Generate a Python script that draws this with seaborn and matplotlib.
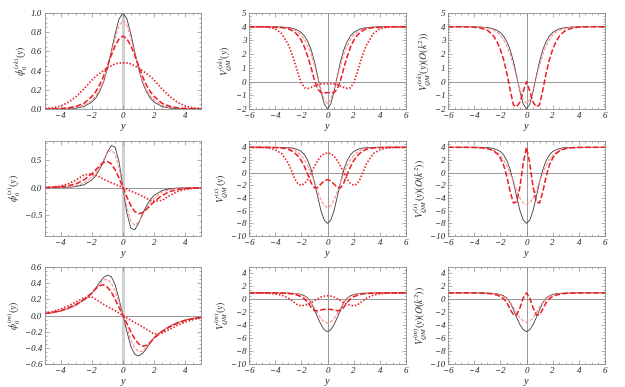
import matplotlib
matplotlib.use('Agg')
import matplotlib.pyplot as plt
import seaborn as sns
import pandas as pd
from matplotlib.ticker import MultipleLocator, AutoMinorLocator

# ---------------- data ----------------
XA = [-5, -4.5, -4, -3.5, -3, -2.5, -2, -1.75, -1.5, -1.25, -1, -0.75, -0.5, -0.25, 0,
      0.25, 0.5, 0.75, 1, 1.25, 1.5, 1.75, 2, 2.5, 3, 3.5, 4, 4.5, 5]
XB = [-6, -5, -4.5, -4, -3.5, -3, -2.75, -2.5, -2.25, -2, -1.75, -1.5, -1.25, -1, -0.75, -0.5, -0.25, 0,
      0.25, 0.5, 0.75, 1, 1.25, 1.5, 1.75, 2, 2.25, 2.5, 2.75, 3, 3.5, 4, 4.5, 5, 6]

# row 1, column 1 (zero mode)
r1c1_black = [0.0002, 0.0005, 0.0013, 0.0036, 0.0099, 0.026, 0.071, 0.114, 0.181, 0.278, 0.420, 0.600, 0.786, 0.940, 1.0,
              0.940, 0.786, 0.600, 0.420, 0.278, 0.181, 0.114, 0.071, 0.026, 0.0099, 0.0036, 0.0013, 0.0005, 0.0002]
r1c1_pink = [0.001, 0.002, 0.004, 0.008, 0.017, 0.038, 0.09, 0.135, 0.20, 0.29, 0.43, 0.58, 0.74, 0.87, 0.92,
             0.87, 0.74, 0.58, 0.43, 0.29, 0.20, 0.135, 0.09, 0.038, 0.017, 0.008, 0.004, 0.002, 0.001]
r1c1_dash = [0.001, 0.002, 0.005, 0.012, 0.028, 0.06, 0.13, 0.18, 0.25, 0.34, 0.45, 0.56, 0.66, 0.73, 0.76,
             0.73, 0.66, 0.56, 0.45, 0.34, 0.25, 0.18, 0.13, 0.06, 0.028, 0.012, 0.005, 0.002, 0.001]
r1c1_dot = [0.005, 0.012, 0.03, 0.07, 0.13, 0.21, 0.30, 0.34, 0.37, 0.40, 0.43, 0.45, 0.47, 0.48, 0.48,
            0.48, 0.47, 0.45, 0.43, 0.40, 0.37, 0.34, 0.30, 0.21, 0.13, 0.07, 0.03, 0.012, 0.005]

# row 2, column 1
r2c1_black = [0.0004, 0.001, 0.0027, 0.007, 0.0196, 0.052, 0.137, 0.215, 0.33, 0.47, 0.64, 0.76, 0.726, 0.46, 0,
              -0.46, -0.726, -0.76, -0.64, -0.47, -0.33, -0.215, -0.137, -0.052, -0.0196, -0.007, -0.0027, -0.001, -0.0004]
r2c1_pink = [0.001, 0.002, 0.006, 0.014, 0.035, 0.08, 0.19, 0.27, 0.38, 0.5, 0.62, 0.68, 0.6, 0.35, 0,
             -0.35, -0.6, -0.68, -0.62, -0.5, -0.38, -0.27, -0.19, -0.08, -0.035, -0.014, -0.006, -0.002, -0.001]
r2c1_dash = [0.003, 0.007, 0.016, 0.035, 0.07, 0.14, 0.25, 0.32, 0.39, 0.45, 0.47, 0.43, 0.32, 0.17, 0,
             -0.17, -0.32, -0.43, -0.47, -0.45, -0.39, -0.32, -0.25, -0.14, -0.07, -0.035, -0.016, -0.007, -0.003]
r2c1_dot = [0.005, 0.012, 0.03, 0.07, 0.14, 0.23, 0.245, 0.225, 0.19, 0.155, 0.12, 0.09, 0.06, 0.03, 0,
            -0.03, -0.06, -0.09, -0.12, -0.155, -0.19, -0.225, -0.245, -0.23, -0.14, -0.07, -0.03, -0.012, -0.005]

# row 3, column 1
r3c1_black = [0.02, 0.035, 0.055, 0.085, 0.13, 0.19, 0.27, 0.34, 0.41, 0.47, 0.5, 0.48, 0.38, 0.2, 0,
              -0.2, -0.38, -0.48, -0.5, -0.47, -0.41, -0.34, -0.27, -0.19, -0.13, -0.085, -0.055, -0.035, -0.02]
r3c1_pink = [0.022, 0.035, 0.055, 0.085, 0.13, 0.19, 0.27, 0.33, 0.39, 0.44, 0.45, 0.4, 0.3, 0.16, 0,
             -0.16, -0.3, -0.4, -0.45, -0.44, -0.39, -0.33, -0.27, -0.19, -0.13, -0.085, -0.055, -0.035, -0.022]
r3c1_dash = [0.025, 0.04, 0.06, 0.095, 0.14, 0.2, 0.28, 0.33, 0.37, 0.38, 0.35, 0.29, 0.2, 0.1, 0,
             -0.1, -0.2, -0.29, -0.35, -0.38, -0.37, -0.33, -0.28, -0.2, -0.14, -0.095, -0.06, -0.04, -0.025]
r3c1_dot = [0.03, 0.05, 0.08, 0.12, 0.17, 0.22, 0.23, 0.2, 0.17, 0.14, 0.11, 0.085, 0.06, 0.03, 0,
            -0.03, -0.06, -0.085, -0.11, -0.14, -0.17, -0.2, -0.23, -0.22, -0.17, -0.12, -0.08, -0.05, -0.03]

# row 1, potentials
r1_black = [4, 4, 4, 3.99, 3.98, 3.94, 3.9, 3.84, 3.73, 3.58, 3.32, 2.91, 2.33, 1.48, 0.4, -0.72, -1.64, -2,
            -1.64, -0.72, 0.4, 1.48, 2.33, 2.91, 3.32, 3.58, 3.73, 3.84, 3.9, 3.94, 3.98, 3.99, 4, 4, 4]
r1_pink = [4, 4, 4, 3.99, 3.96, 3.9, 3.84, 3.75, 3.6, 3.4, 3.05, 2.6, 2.0, 1.2, 0.3, -0.6, -1.3, -1.6,
           -1.3, -0.6, 0.3, 1.2, 2.0, 2.6, 3.05, 3.4, 3.6, 3.75, 3.84, 3.9, 3.96, 3.99, 4, 4, 4]
r1c2_dash = [4, 4, 3.99, 3.97, 3.94, 3.85, 3.75, 3.6, 3.35, 3.0, 2.5, 1.8, 1.0, 0.1, -0.55, -0.8, -0.82, -0.8,
             -0.82, -0.8, -0.55, 0.1, 1.0, 1.8, 2.5, 3.0, 3.35, 3.6, 3.75, 3.85, 3.94, 3.97, 3.99, 4, 4]
r1c2_dot = [4, 3.99, 3.96, 3.85, 3.5, 2.7, 2.1, 1.4, 0.6, -0.1, -0.45, -0.5, -0.43, -0.32, -0.22, -0.17, -0.15, -0.15,
            -0.15, -0.17, -0.22, -0.32, -0.43, -0.5, -0.45, -0.1, 0.6, 1.4, 2.1, 2.7, 3.5, 3.85, 3.96, 3.99, 4]
r1c3_dash = [4, 4, 3.99, 3.97, 3.9, 3.75, 3.55, 3.3, 2.9, 2.35, 1.6, 0.6, -0.6, -1.7, -1.83, -1.5, -0.7, 0,
             -0.7, -1.5, -1.83, -1.7, -0.6, 0.6, 1.6, 2.35, 2.9, 3.3, 3.55, 3.75, 3.9, 3.97, 3.99, 4, 4]

# row 2, potentials
r2_black = [4, 4, 4, 4, 3.99, 3.95, 3.9, 3.8, 3.6, 3.35, 2.8, 1.9, 0.5, -1.5, -3.8, -6, -7.5, -8,
            -7.5, -6, -3.8, -1.5, 0.5, 1.9, 2.8, 3.35, 3.6, 3.8, 3.9, 3.95, 3.99, 4, 4, 4, 4]
r2c2_pink = [4, 3.99, 3.98, 3.96, 3.9, 3.85, 3.7, 3.5, 3.15, 2.7, 2.0, 1.1, -0.1, -1.5, -3.0, -4.3, -5.2, -5.5,
             -5.2, -4.3, -3.0, -1.5, -0.1, 1.1, 2.0, 2.7, 3.15, 3.5, 3.7, 3.85, 3.9, 3.96, 3.98, 3.99, 4]
r2c3_pink = [4, 3.99, 3.98, 3.96, 3.9, 3.85, 3.7, 3.5, 3.15, 2.7, 2.0, 1.1, -0.1, -1.4, -2.8, -4.0, -4.75, -5.0,
             -4.75, -4.0, -2.8, -1.4, -0.1, 1.1, 2.0, 2.7, 3.15, 3.5, 3.7, 3.85, 3.9, 3.96, 3.98, 3.99, 4]
r2c2_dash = [4, 4, 3.99, 3.97, 3.9, 3.7, 3.45, 3.1, 2.6, 1.9, 0.9, -0.3, -1.6, -2.4, -2.35, -1.8, -1.3, -1.1,
             -1.3, -1.8, -2.35, -2.4, -1.6, -0.3, 0.9, 1.9, 2.6, 3.1, 3.45, 3.7, 3.9, 3.97, 3.99, 4, 4]
r2c2_dot = [4, 3.97, 3.88, 3.6, 3.0, 1.5, 0.3, -1.0, -1.8, -2.0, -1.7, -1.0, 0.0, 1.0, 1.9, 2.6, 3.0, 3.1,
            3.0, 2.6, 1.9, 1.0, 0.0, -1.0, -1.7, -2.0, -1.8, -1.0, 0.3, 1.5, 3.0, 3.6, 3.88, 3.97, 4]
r2c3_dash = [4, 4, 4, 3.98, 3.93, 3.8, 3.65, 3.4, 3.0, 2.3, 1.2, -0.6, -3.0, -4.8, -4.6, -2.2, 1.5, 4.0,
             1.5, -2.2, -4.6, -4.8, -3.0, -0.6, 1.2, 2.3, 3.0, 3.4, 3.65, 3.8, 3.93, 3.98, 4, 4, 4]

# row 3, potentials
r3_black = [1, 1, 1, 1, 0.99, 0.97, 0.95, 0.92, 0.86, 0.75, 0.55, 0.2, -0.5, -1.6, -2.8, -3.9, -4.7, -5,
            -4.7, -3.9, -2.8, -1.6, -0.5, 0.2, 0.55, 0.75, 0.86, 0.92, 0.95, 0.97, 0.99, 1, 1, 1, 1]
r3c2_pink = [1, 1, 1, 1, 0.98, 0.95, 0.92, 0.88, 0.8, 0.67, 0.45, 0.1, -0.5, -1.3, -2.2, -3.0, -3.5, -3.7,
             -3.5, -3.0, -2.2, -1.3, -0.5, 0.1, 0.45, 0.67, 0.8, 0.88, 0.92, 0.95, 0.98, 1, 1, 1, 1]
r3c3_pink = [1, 1, 1, 1, 0.98, 0.95, 0.92, 0.88, 0.8, 0.67, 0.45, 0.1, -0.45, -1.2, -2.1, -2.85, -3.35, -3.5,
             -3.35, -2.85, -2.1, -1.2, -0.45, 0.1, 0.45, 0.67, 0.8, 0.88, 0.92, 0.95, 0.98, 1, 1, 1, 1]
r3c2_dash = [1, 1, 1, 0.99, 0.96, 0.9, 0.85, 0.75, 0.6, 0.4, 0.05, -0.5, -1.2, -1.75, -1.75, -1.65, -1.55, -1.5,
             -1.55, -1.65, -1.75, -1.75, -1.2, -0.5, 0.05, 0.4, 0.6, 0.75, 0.85, 0.9, 0.96, 0.99, 1, 1, 1]
r3c2_dot = [1, 0.99, 0.95, 0.85, 0.65, 0.2, -0.15, -0.55, -0.9, -1.0, -0.92, -0.75, -0.5, -0.2, 0.1, 0.35, 0.5, 0.55,
            0.5, 0.35, 0.1, -0.2, -0.5, -0.75, -0.92, -1.0, -0.9, -0.55, -0.15, 0.2, 0.65, 0.85, 0.95, 0.99, 1]
r3c3_dash = [1, 1, 1, 0.99, 0.97, 0.92, 0.87, 0.78, 0.65, 0.45, 0.1, -0.5, -1.5, -2.4, -2.4, -1.3, 0.2, 1.0,
             0.2, -1.3, -2.4, -2.4, -1.5, -0.5, 0.1, 0.45, 0.65, 0.78, 0.87, 0.92, 0.97, 0.99, 1, 1, 1]

YLABELS = [
    [r'$\phi_0^{(sk)}(y)$', r'$V_{QM}^{(sk)}(y)$', r'$V_{QM}^{(sk)}(y)(O(k^2))$'],
    [r'$\phi_0^{(x)}(y)$', r'$V_{QM}^{(x)}(y)$', r'$V_{QM}^{(x)}(y)(O(k^2))$'],
    [r'$\phi_0^{(m)}(y)$', r'$V_{QM}^{(m)}(y)$', r'$V_{QM}^{(m)}(y)(O(k^2))$'],
]

# ---------------- styling ----------------
sns.set_style("ticks")
plt.rcParams['font.family'] = ['Liberation Serif', 'DejaVu Serif']
plt.rcParams['mathtext.fontset'] = 'stix'

RED = '#ec1c24'
STY = {
    'black': dict(color='#3a3a3a', linewidth=0.6, linestyle='-'),
    'pink': dict(color='#ff8c8c', linewidth=0.8, linestyle=(0, (3, 1.5))),
    'dash': dict(color=RED, linewidth=1.1, linestyle=(0, (3.6, 1.5))),
    'dot': dict(color=RED, linewidth=1.2, linestyle=(0, (0.9, 1.1))),
}

fig = plt.figure(figsize=(6.25, 3.87), dpi=100)
LEFTS = [0.072, 0.3984, 0.7168]
WIDTHS = [0.2496, 0.2512, 0.2512]
BOTTOMS = [0.7183, 0.3902, 0.0594]
HEIGHTS = [0.248, 0.2455, 0.2506]

panels = [
    [(XA, [(r1c1_black, 'black'), (r1c1_pink, 'pink'), (r1c1_dash, 'dash'), (r1c1_dot, 'dot')]),
     (XB, [(r1_black, 'black'), (r1_pink, 'pink'), (r1c2_dash, 'dash'), (r1c2_dot, 'dot')]),
     (XB, [(r1_black, 'black'), (r1_pink, 'pink'), (r1c3_dash, 'dash')])],
    [(XA, [(r2c1_black, 'black'), (r2c1_pink, 'pink'), (r2c1_dash, 'dash'), (r2c1_dot, 'dot')]),
     (XB, [(r2_black, 'black'), (r2c2_pink, 'pink'), (r2c2_dash, 'dash'), (r2c2_dot, 'dot')]),
     (XB, [(r2_black, 'black'), (r2c3_pink, 'pink'), (r2c3_dash, 'dash')])],
    [(XA, [(r3c1_black, 'black'), (r3c1_pink, 'pink'), (r3c1_dash, 'dash'), (r3c1_dot, 'dot')]),
     (XB, [(r3_black, 'black'), (r3c2_pink, 'pink'), (r3c2_dash, 'dash'), (r3c2_dot, 'dot')]),
     (XB, [(r3_black, 'black'), (r3c3_pink, 'pink'), (r3c3_dash, 'dash')])],
]

YLIMS = [[(0, 1.0), (-2, 5), (-2, 5)],
         [(-0.87, 0.84), (-10, 5), (-10, 5)],
         [(-0.6, 0.6), (-10, 5), (-10, 5)]]
YMAJ = [[0.2, 1, 1], [0.5, 2, 2], [0.2, 2, 2]]
YMIN = [[4, 5, 5], [5, 4, 4], [4, 4, 4]]
YFMT = [['{:.1f}', '{:.0f}', '{:.0f}'], ['{:.1f}', '{:.0f}', '{:.0f}'], ['{:.1f}', '{:.0f}', '{:.0f}']]

FRAME = '#8c8c8c'
for r in range(3):
    for c in range(3):
        ax = fig.add_axes([LEFTS[c], BOTTOMS[r], WIDTHS[c], HEIGHTS[r]])
        xs, curves = panels[r][c]
        if c == 0:
            ax.axvline(0, color='#d0d0d0', lw=2.2, zorder=0)
            ax.axhline(0, color='#999999', lw=0.7, zorder=0)
        else:
            ax.axvline(0, color='#999999', lw=0.7, zorder=0)
            ax.axhline(0, color='#999999', lw=0.7, zorder=0)
        for vals, key in curves:
            df = pd.DataFrame({'y': xs, 'v': vals})
            sns.lineplot(data=df, x='y', y='v', ax=ax, sort=False, estimator=None, **STY[key])
        if c == 0:
            ax.set_xlim(-5, 5)
        else:
            ax.set_xlim(-6, 6)
        ax.set_ylim(*YLIMS[r][c])
        ax.xaxis.set_major_locator(MultipleLocator(2))
        ax.xaxis.set_minor_locator(AutoMinorLocator(4))
        ax.yaxis.set_major_locator(MultipleLocator(YMAJ[r][c]))
        ax.yaxis.set_minor_locator(AutoMinorLocator(YMIN[r][c]))
        fmt = YFMT[r][c]
        ax.yaxis.set_major_formatter(matplotlib.ticker.FuncFormatter(
            lambda v, p, f=fmt: f.format(v).replace('-', '\u2212')))
        ax.xaxis.set_major_formatter(matplotlib.ticker.FuncFormatter(
            lambda v, p: '{:.0f}'.format(v).replace('-', '\u2212')))
        ax.tick_params(which='both', direction='in', top=True, right=True, color=FRAME,
                       labelsize=6.5, pad=2, width=0.5)
        ax.tick_params(which='major', length=3)
        ax.tick_params(which='minor', length=1.5)
        for lab in ax.get_xticklabels() + ax.get_yticklabels():
            lab.set_fontstyle('italic')
        for sp in ax.spines.values():
            sp.set_color(FRAME)
            sp.set_linewidth(0.6)
        ax.set_xlabel('y', fontsize=7.5, fontstyle='italic', labelpad=1.5)
        ax.set_ylabel(YLABELS[r][c], fontsize=7, labelpad=1)

fig.savefig('out.png', dpi=100)
